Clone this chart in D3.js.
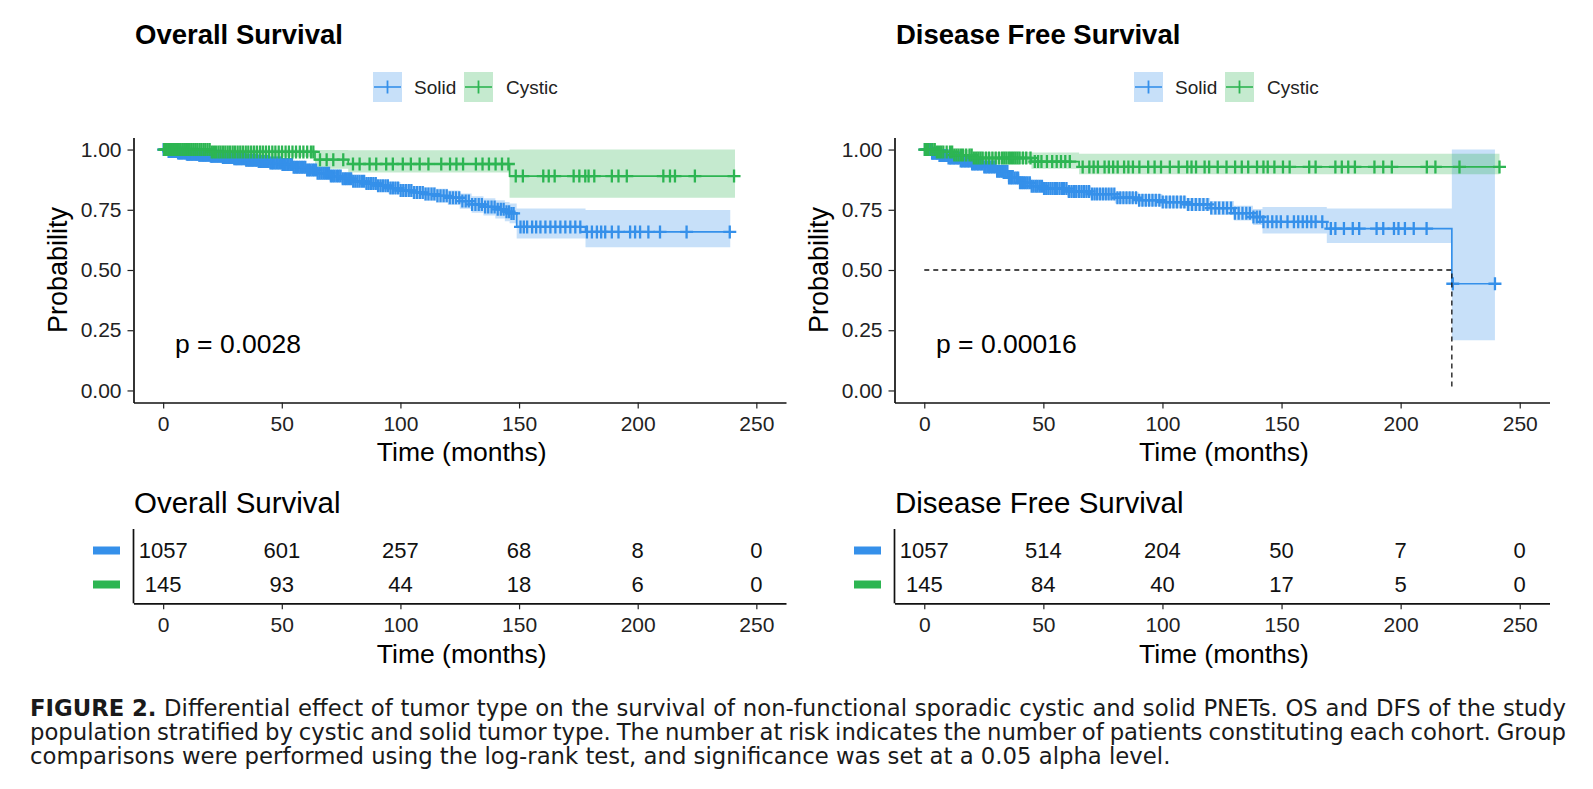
<!DOCTYPE html>
<html>
<head>
<meta charset="utf-8">
<script src="https://cdn.jsdelivr.net/npm/d3@7"></script>
<style>
  html, body { margin: 0; padding: 0; background: #ffffff; }
  svg { display: block; }
</style>
</head>
<body>
<svg id="chart" width="1593" height="789"></svg>
<script>
// ---------------- DATA ----------------
const groups = ["Solid", "Cystic"];
const timeTicks = [0, 50, 100, 150, 200, 250];
const probTicks = [0, 0.25, 0.5, 0.75, 1];
const probTickLabels = ["0.00", "0.25", "0.50", "0.75", "1.00"];

// Overall survival - Solid
const osSolidTime  = [0, 2, 6, 10, 15, 20, 25, 30, 35, 40, 45, 50, 55, 60, 65, 70, 75, 80, 85, 90, 95, 100, 105, 110, 115, 120, 125, 130, 135, 140, 144, 146, 149, 178];
const osSolidSurv  = [1.000, 0.992, 0.986, 0.980, 0.976, 0.972, 0.967, 0.962, 0.956, 0.950, 0.944, 0.938, 0.927, 0.915, 0.902, 0.890, 0.879, 0.868, 0.859, 0.850, 0.840, 0.830, 0.822, 0.815, 0.808, 0.800, 0.786, 0.772, 0.762, 0.752, 0.742, 0.735, 0.679, 0.658];
const osSolidLower = [1.000, 0.986, 0.979, 0.972, 0.967, 0.962, 0.956, 0.950, 0.943, 0.936, 0.929, 0.922, 0.910, 0.897, 0.883, 0.870, 0.858, 0.846, 0.836, 0.826, 0.815, 0.804, 0.795, 0.787, 0.779, 0.770, 0.754, 0.738, 0.726, 0.714, 0.702, 0.694, 0.631, 0.594];
const osSolidUpper = [1.000, 0.998, 0.993, 0.988, 0.985, 0.982, 0.978, 0.974, 0.969, 0.964, 0.959, 0.954, 0.944, 0.933, 0.921, 0.910, 0.900, 0.890, 0.882, 0.874, 0.865, 0.856, 0.849, 0.843, 0.837, 0.830, 0.818, 0.806, 0.798, 0.790, 0.782, 0.776, 0.755, 0.749];
const osSolidEnd = 239.0;
const osSolidCensor = [0.2,0.6,1.0,1.4,1.8,2.3,2.7,3.2,3.6,4.1,4.5,5.0,5.4,5.9,6.3,6.8,7.2,7.7,8.1,8.6,9.1,9.5,10.0,10.5,10.9,11.4,11.9,12.3,12.8,13.3,13.8,14.2,14.7,15.2,15.7,16.2,16.7,17.1,17.6,18.1,18.6,19.1,19.6,20.1,20.6,21.1,21.6,22.1,22.6,23.2,23.7,24.2,24.7,25.2,25.8,26.3,26.8,27.3,27.9,28.4,28.9,29.5,30.0,30.6,31.1,31.7,32.2,32.8,33.3,33.9,34.5,35.0,35.6,36.2,36.8,37.3,37.9,38.5,39.1,39.7,40.3,40.9,41.5,42.1,42.7,43.3,43.9,44.5,45.2,45.8,46.4,47.0,47.7,48.3,49.0,49.6,50.3,50.9,51.6,52.3,52.9,53.6,54.3,55.0,55.7,56.4,57.1,57.8,58.5,59.2,59.9,60.7,61.4,62.1,62.9,63.6,64.4,65.1,65.9,66.7,67.5,68.3,69.1,69.9,70.7,71.5,72.3,73.2,74.0,74.8,75.7,76.6,77.4,78.3,79.2,80.1,81.0,81.9,82.8,83.8,84.7,85.7,86.6,87.6,88.6,89.6,90.6,91.6,92.6,93.7,94.7,95.8,96.8,97.9,99.0,100.1,101.2,102.3,103.5,104.6,105.8,107.0,108.2,109.4,110.6,111.8,113.1,114.3,115.6,116.9,118.2,119.5,120.8,122.1,123.4,124.8,126.1,127.5,128.8,130.2,131.6,133.0,134.3,135.7,137.0,138.4,139.7,141.0,142.3,143.5,144.7,145.8,146.8,147.7,150.6,152.0,153.4,155.5,157.2,159.0,161.1,163.2,165.3,167.4,169.5,171.6,173.7,175.8,178.6,180.7,182.8,184.6,186.3,189.1,191.9,196.8,198.9,201.0,204.5,209.4,220.6,238.8];

// Overall survival - Cystic
const osCysticTime  = [0, 20, 64, 78, 146];
const osCysticSurv  = [1.000, 0.990, 0.958, 0.940, 0.890];
const osCysticLower = [1.000, 0.970, 0.920, 0.905, 0.800];
const osCysticUpper = [1.000, 1.000, 0.998, 0.997, 1.000];
const osCysticEnd = 241.0;
const osCysticCensor = [0.4,0.9,1.5,2.0,2.6,3.1,3.7,4.2,5.0,5.9,6.6,7.4,8.2,8.9,9.7,10.4,11.2,12.0,12.8,13.6,14.4,15.3,16.1,17.0,17.8,18.7,19.6,20.5,21.4,22.3,23.3,24.2,25.2,26.2,27.2,28.2,29.3,30.3,31.4,32.5,33.6,34.8,35.9,37.1,38.3,39.5,40.8,42.0,43.3,44.6,46.0,47.3,48.7,50.1,51.6,53.0,54.5,56.0,57.6,59.1,60.7,62.3,63.3,66.1,68.9,71.7,75.9,80.0,82.8,87.0,89.8,94.0,96.8,101.0,104.4,108.1,111.8,117.2,120.9,123.6,126.4,131.8,134.6,137.3,140.1,142.8,145.5,148.6,151.6,160.2,162.5,165.0,173.0,175.4,177.9,179.3,181.7,189.1,191.9,195.4,210.8,213.6,215.7,224.1,240.6];

// Disease free survival - Solid
const dfsSolidTime  = [0, 3, 6, 10, 15, 20, 25, 30, 35, 40, 45, 50, 60, 70, 80, 90, 100, 110, 120, 130, 138, 142, 169, 221.5];
const dfsSolidSurv  = [1.000, 0.985, 0.975, 0.965, 0.952, 0.940, 0.928, 0.910, 0.882, 0.862, 0.848, 0.838, 0.826, 0.815, 0.800, 0.790, 0.782, 0.772, 0.757, 0.736, 0.720, 0.700, 0.672, 0.443];
const dfsSolidLower = [1.000, 0.978, 0.966, 0.954, 0.940, 0.926, 0.913, 0.894, 0.864, 0.843, 0.828, 0.817, 0.804, 0.792, 0.776, 0.765, 0.756, 0.745, 0.728, 0.705, 0.687, 0.651, 0.612, 0.208];
const dfsSolidUpper = [1.000, 0.992, 0.984, 0.976, 0.964, 0.954, 0.943, 0.926, 0.900, 0.881, 0.868, 0.859, 0.848, 0.838, 0.824, 0.815, 0.808, 0.799, 0.786, 0.767, 0.753, 0.762, 0.755, 1.000];
const dfsSolidEnd = 239.6;
const dfsSolidCensor = [0.3,0.8,1.3,1.8,2.3,2.8,3.3,3.8,4.3,4.9,5.4,5.9,6.4,7.0,7.5,8.0,8.6,9.1,9.7,10.2,10.8,11.3,11.9,12.4,13.0,13.6,14.1,14.7,15.3,15.9,16.5,17.1,17.7,18.3,18.9,19.5,20.1,20.7,21.3,22.0,22.6,23.2,23.9,24.5,25.2,25.8,26.5,27.2,27.8,28.5,29.2,29.9,30.6,31.3,32.0,32.7,33.4,34.2,34.9,35.6,36.4,37.1,37.9,38.7,39.4,40.2,41.0,41.8,42.6,43.4,44.3,45.1,45.9,46.8,47.6,48.5,49.4,50.3,51.2,52.1,53.0,53.9,54.9,55.8,56.8,57.8,58.7,59.7,60.7,61.8,62.8,63.8,64.9,66.0,67.0,68.1,69.2,70.4,71.5,72.6,73.8,75.0,76.2,77.4,78.6,79.8,81.1,82.3,83.6,84.9,86.2,87.5,88.9,90.2,91.6,93.0,94.4,95.8,97.2,98.7,100.1,101.6,103.1,104.6,106.1,107.7,109.2,110.8,112.4,114.0,115.6,117.2,118.9,120.5,122.2,123.8,125.5,127.1,128.8,130.4,132.0,133.6,135.2,136.7,138.2,139.6,140.9,142.4,144.2,146.1,147.9,149.7,152.5,155.2,157.0,158.9,160.7,162.5,164.3,167.1,170.7,172.6,176.2,179.9,182.6,189.9,192.7,197.2,199.1,201.8,205.5,210.9,221.9,239.6];

// Disease free survival - Cystic
const dfsCysticTime  = [0, 5, 12, 20, 45, 65];
const dfsCysticSurv  = [1.000, 0.990, 0.977, 0.965, 0.950, 0.928];
const dfsCysticLower = [1.000, 0.975, 0.955, 0.940, 0.920, 0.897];
const dfsCysticUpper = [1.000, 1.000, 0.998, 0.990, 0.988, 0.983];
const dfsCysticEnd = 241.5;
const dfsCysticCensor = [0.2,0.7,1.6,2.6,3.5,4.4,5.3,6.2,7.1,8.0,9.4,10.8,11.7,12.6,13.5,14.4,15.4,16.3,17.6,19.0,19.9,20.8,21.8,22.7,23.6,24.5,25.9,27.2,28.6,30.0,31.4,32.7,33.6,34.5,35.5,36.4,37.3,38.2,39.1,40.0,41.4,42.8,44.6,46.4,47.8,49.2,51.5,53.7,55.6,57.4,59.2,61.1,66.5,69.3,71.1,72.9,75.7,77.5,79.3,81.2,83.9,85.7,87.6,90.3,94.0,96.7,99.4,103.1,106.8,110.4,112.2,114.1,117.7,119.6,123.2,126.9,130.5,133.3,136.0,139.7,142.4,144.2,147.0,150.6,153.4,161.6,164.3,172.6,175.3,178.0,180.8,189.0,192.7,196.3,211.0,214.6,224.7,241.5];

const dfsMedianTime = 221.5;

// Numbers at risk
const osRiskSolid   = [1057, 601, 257, 68, 8, 0];
const osRiskCystic  = [145, 93, 44, 18, 6, 0];
const dfsRiskSolid  = [1057, 514, 204, 50, 7, 0];
const dfsRiskCystic = [145, 84, 40, 17, 5, 0];

const pValues = ["p = 0.0028", "p = 0.00016"];
const panelTitles = ["Overall Survival", "Disease Free Survival"];

const captionBold = "FIGURE 2.";
const captionLines = [
  "Differential effect of tumor type on the survival of non-functional sporadic cystic and solid PNETs. OS and DFS of the study",
  "population stratified by cystic and solid tumor type. The number at risk indicates the number of patients constituting each cohort. Group",
  "comparisons were performed using the log-rank test, and significance was set at a 0.05 alpha level."
];

// ---------------- STYLE ----------------
const FONT = "'Liberation Sans', Arial, Helvetica, sans-serif";
const CAPFONT = "'DejaVu Sans', 'Noto Sans', sans-serif";
const COLORS = { Solid: "#3590EA", Cystic: "#2DB552" };
const BAND_OPACITY = 0.28;

const svg = d3.select("#chart");

function stepData(time, surv, lower, upper, end) {
  const d = time.map((t, i) => ({ t, s: surv[i], lo: lower[i], hi: upper[i] }));
  const last = d[d.length - 1];
  d.push({ t: end, s: last.s, lo: last.lo, hi: last.hi });
  return d;
}
function survAt(time, surv, t) {
  const i = Math.max(0, d3.bisectRight(time, t) - 1);
  return surv[i];
}

function drawPanel(cfg) {
  const g = svg.append("g");
  const x = d3.scaleLinear().domain([-12.5, 262.5]).range(cfg.xRange);
  const y = d3.scaleLinear().domain([-0.05, 1.05]).range([402.5, 137.5]);
  const dx = cfg.xRange[0] - 133.5;

  // Title
  g.append("text").attr("x", 135 + dx).attr("y", 43.5)
    .attr("font-family", FONT).attr("font-weight", "bold").attr("font-size", 27.5)
    .attr("fill", "#000").text(cfg.title);

  // Legend
  const legX = [373 + dx, 464 + dx];
  const labX = [414 + dx, 506 + dx];
  groups.forEach((gr, i) => {
    const kg = g.append("g");
    kg.append("rect").attr("x", legX[i]).attr("y", 72).attr("width", 29).attr("height", 30)
      .attr("fill", COLORS[gr]).attr("fill-opacity", BAND_OPACITY);
    kg.append("line").attr("x1", legX[i] + 1).attr("x2", legX[i] + 28).attr("y1", 87).attr("y2", 87)
      .attr("stroke", COLORS[gr]).attr("stroke-width", 1.6);
    kg.append("line").attr("x1", legX[i] + 14.5).attr("x2", legX[i] + 14.5).attr("y1", 80.5).attr("y2", 93.5)
      .attr("stroke", COLORS[gr]).attr("stroke-width", 1.8);
    g.append("text").attr("x", labX[i]).attr("y", 87).attr("dy", "0.36em")
      .attr("font-family", FONT).attr("font-size", 19).attr("fill", "#222").text(gr);
  });

  // Confidence bands
  const area = d3.area().curve(d3.curveStepAfter)
    .x(d => x(d.t)).y0(d => y(d.lo)).y1(d => y(d.hi));
  const line = d3.line().curve(d3.curveStepAfter).x(d => x(d.t)).y(d => y(d.s));

  cfg.series.forEach(s => {
    g.append("path").attr("d", area(s.data)).attr("fill", COLORS[s.group])
      .attr("fill-opacity", BAND_OPACITY).attr("stroke", "none");
  });
  cfg.series.forEach(s => {
    g.append("path").attr("d", line(s.data)).attr("fill", "none")
      .attr("stroke", COLORS[s.group]).attr("stroke-width", 1.7);
    const cg = g.append("g");
    s.censor.forEach(t => {
      const v = survAt(s.time, s.surv, t);
      cg.append("path").attr("transform", `translate(${x(t)},${y(v)})`)
        .attr("d", "M-6.5,0H6.5M0,-6.5V6.5").attr("stroke", COLORS[s.group])
        .attr("stroke-width", 2.3).attr("fill", "none");
    });
  });

  // Median dashed line
  if (cfg.median != null) {
    g.append("path")
      .attr("d", `M${x(0)},${y(0.5)}H${x(cfg.median)}V${y(0)}`)
      .attr("fill", "none").attr("stroke", "#111").attr("stroke-width", 1.3)
      .attr("stroke-dasharray", "5,4");
  }

  // Axes
  const yAxis = d3.axisLeft(y).tickValues(probTicks).tickFormat((d, i) => probTickLabels[i])
    .tickSize(6).tickSizeOuter(0).tickPadding(6);
  const xAxis = d3.axisBottom(x).tickValues(timeTicks).tickFormat(d3.format("d"))
    .tickSize(6).tickSizeOuter(0).tickPadding(8);
  const ya = g.append("g").attr("transform", `translate(${cfg.xRange[0]},0)`).call(yAxis);
  const xa = g.append("g").attr("transform", `translate(0,402.5)`).call(xAxis);
  [ya, xa].forEach(a => {
    a.select(".domain").attr("stroke", "#111").attr("stroke-width", 1.7);
    a.selectAll(".tick line").attr("stroke", "#222").attr("stroke-width", 1.2);
    a.selectAll(".tick text").attr("font-family", FONT).attr("font-size", 21).attr("fill", "#222");
  });

  // Axis titles
  g.append("text").attr("transform", `translate(${67 + dx},270) rotate(-90)`)
    .attr("text-anchor", "middle").attr("font-family", FONT).attr("font-size", 27)
    .attr("fill", "#000").text("Probability");
  const cx = (cfg.xRange[0] + cfg.xRange[1]) / 2 + 2;
  g.append("text").attr("x", cx).attr("y", 461).attr("text-anchor", "middle")
    .attr("font-family", FONT).attr("font-size", 26.5).attr("fill", "#000").text("Time (months)");

  // p-value
  g.append("text").attr("x", 175 + dx).attr("y", 353).attr("font-family", FONT)
    .attr("font-size", 26.5).attr("fill", "#000").text(cfg.p);

  // ---------- Risk table ----------
  g.append("text").attr("x", 134 + dx).attr("y", 513).attr("font-family", FONT)
    .attr("font-size", 29.5).attr("fill", "#000").text(cfg.title);
  const ty = d3.scalePoint().domain(groups).range([550.5, 584.5]);
  cfg.risk.forEach((row, gi) => {
    const gr = groups[gi];
    g.append("rect").attr("x", 93 + dx).attr("y", ty(gr) - 4).attr("width", 27).attr("height", 8)
      .attr("fill", COLORS[gr]);
    row.forEach((n, j) => {
      g.append("text").attr("x", x(timeTicks[j])).attr("y", ty(gr)).attr("dy", "0.36em")
        .attr("text-anchor", "middle").attr("font-family", FONT).attr("font-size", 22)
        .attr("fill", "#111").text(n);
    });
  });
  g.append("line").attr("x1", cfg.xRange[0]).attr("x2", cfg.xRange[0]).attr("y1", 529).attr("y2", 603.3)
    .attr("stroke", "#111").attr("stroke-width", 1.7);
  const txa = g.append("g").attr("transform", `translate(0,603.3)`).call(xAxis);
  txa.select(".domain").attr("stroke", "#111").attr("stroke-width", 1.7);
  txa.selectAll(".tick line").attr("stroke", "#222").attr("stroke-width", 1.2);
  txa.selectAll(".tick text").attr("font-family", FONT).attr("font-size", 21).attr("fill", "#222");
  g.append("text").attr("x", cx).attr("y", 663).attr("text-anchor", "middle")
    .attr("font-family", FONT).attr("font-size", 26.5).attr("fill", "#000").text("Time (months)");
}

drawPanel({
  xRange: [133.5, 786],
  title: panelTitles[0],
  p: pValues[0],
  median: null,
  risk: [osRiskSolid, osRiskCystic],
  series: [
    { group: "Solid", time: osSolidTime, surv: osSolidSurv, censor: osSolidCensor,
      data: stepData(osSolidTime, osSolidSurv, osSolidLower, osSolidUpper, osSolidEnd) },
    { group: "Cystic", time: osCysticTime, surv: osCysticSurv, censor: osCysticCensor,
      data: stepData(osCysticTime, osCysticSurv, osCysticLower, osCysticUpper, osCysticEnd) }
  ]
});
drawPanel({
  xRange: [894.5, 1549.5],
  title: panelTitles[1],
  p: pValues[1],
  median: dfsMedianTime,
  risk: [dfsRiskSolid, dfsRiskCystic],
  series: [
    { group: "Solid", time: dfsSolidTime, surv: dfsSolidSurv, censor: dfsSolidCensor,
      data: stepData(dfsSolidTime, dfsSolidSurv, dfsSolidLower, dfsSolidUpper, dfsSolidEnd) },
    { group: "Cystic", time: dfsCysticTime, surv: dfsCysticSurv, censor: dfsCysticCensor,
      data: stepData(dfsCysticTime, dfsCysticSurv, dfsCysticLower, dfsCysticUpper, dfsCysticEnd) }
  ]
});

// ---------------- CAPTION ----------------
(function caption() {
  const left = 30, right = 1566, lastLineRight = 1171;
  const baselines = [715.5, 739.5, 763.5];
  const cap = svg.append("g").attr("fill", "#1a1a1a");
  const probe = cap.append("text").attr("font-family", CAPFONT).attr("font-size", 20).text(captionLines[2]);
  const w0 = probe.node().getComputedTextLength();
  probe.remove();
  const fs = 20 * (lastLineRight - left) / w0;

  function measure(word, bold) {
    const t = cap.append("text").attr("font-family", CAPFONT).attr("font-size", fs)
      .attr("font-weight", bold ? "bold" : "normal").text(word);
    const w = t.node().getComputedTextLength();
    t.remove();
    return w;
  }
  const spaceW = measure("a a", false) - measure("aa", false);
  captionLines.forEach((ln, li) => {
    let words = ln.split(" ").map(w => ({ w, bold: false }));
    if (li === 0) words = captionBold.split(" ").map(w => ({ w, bold: true })).concat(words);
    const widths = words.map(o => measure(o.w, o.bold));
    const total = d3.sum(widths);
    const justify = li < captionLines.length - 1;
    const gap = justify ? (right - left - total) / (words.length - 1) : spaceW;
    let cxp = left;
    words.forEach((o, i) => {
      cap.append("text").attr("x", cxp).attr("y", baselines[li])
        .attr("font-family", CAPFONT).attr("font-size", fs)
        .attr("font-weight", o.bold ? "bold" : "normal").text(o.w);
      cxp += widths[i] + gap;
    });
  });
})();
</script>
</body>
</html>
